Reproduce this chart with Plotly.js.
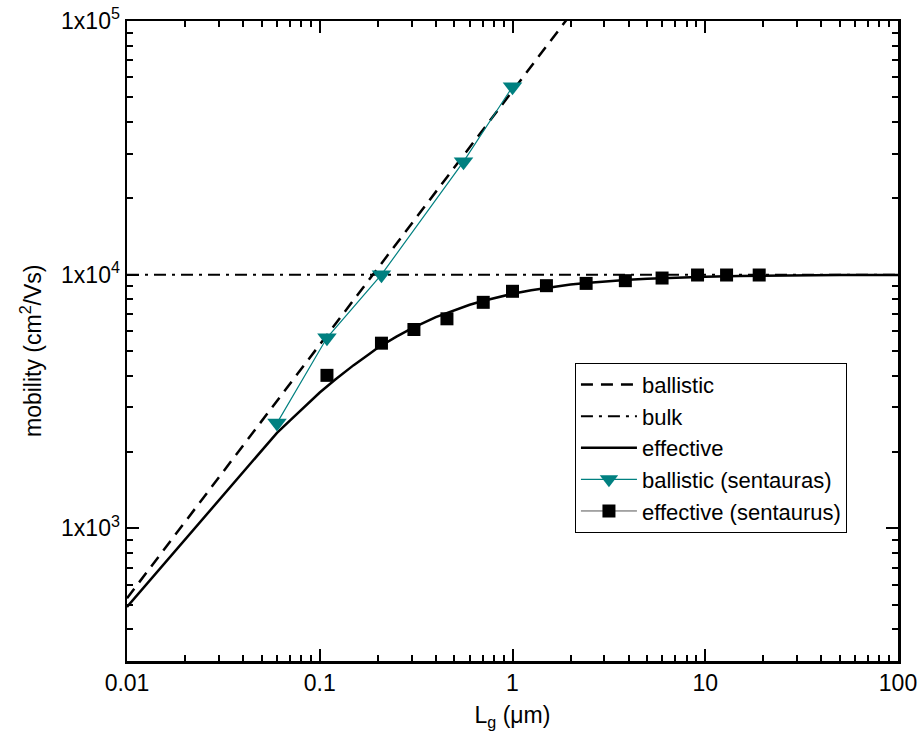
<!DOCTYPE html>
<html>
<head>
<meta charset="utf-8">
<script src="https://cdn.plot.ly/plotly-3.0.1.min.js"></script>
<style>html,body{margin:0;padding:0;background:#fff;}#chart{width:924px;height:744px;}</style>
</head>
<body>
<div id="chart"></div>
<script>
// ---- data ----
const ballisticL  = [0.01, 2.0];
const ballisticMu = [530, 106000];

const bulkL  = [0.01, 100];
const bulkMu = [10000, 10000];

const effL  = [0.01, 0.06, 0.07, 0.08, 0.09, 0.1, 0.12, 0.15, 0.18, 0.2, 0.25, 0.3, 0.4, 0.5, 0.6, 0.7, 0.85, 1, 1.25, 1.5, 2, 2.5, 3, 4, 5, 7, 10, 15, 20, 50, 100];
const effMu = [490, 2380, 2660, 2930, 3190, 3430, 3850, 4400, 4860, 5150, 5700, 6140, 6800, 7260, 7610, 7880, 8180, 8410, 8690, 8880, 9140, 9300, 9410, 9550, 9640, 9740, 9820, 9880, 9910, 9960, 9980];

const sBallL  = [0.06, 0.109, 0.209, 0.557, 1.0];
const sBallMu = [2600, 5640, 10000, 27900, 55100];

const sEffL  = [0.109, 0.209, 0.308, 0.457, 0.705, 1.0, 1.5, 2.41, 3.85, 5.97, 9.12, 12.9, 19.05];
const sEffMu = [4010, 5370, 6080, 6700, 7780, 8600, 9050, 9240, 9470, 9700, 9970, 9970, 9970];

const yTickVals = [1000, 10000, 100000];
const yTickText = ['1x10<sup>3</sup>', '1x10<sup>4</sup>', '1x10<sup>5</sup>'];

const legendNames = ['ballistic', 'bulk', 'effective', 'ballistic (sentauras)', 'effective (sentaurus)'];
const xTitle = 'L<sub>g</sub> (\u03bcm)';
const yTitle = 'mobility (cm<sup>2</sup>/Vs)';

// minor tick positions (axis decoration, digits 2..9 of each decade)
function minorTicks(lo, hi) {
  const out = [];
  for (let e = lo; e < hi; e++) for (let d = 2; d <= 9; d++) out.push(d * Math.pow(10, e));
  return out;
}

const FONT = 'Liberation Sans, Arial, Helvetica, sans-serif';

const traces = [
  {x: ballisticL, y: ballisticMu, name: legendNames[0], mode: 'lines',
   line: {color: '#000', width: 2.5, dash: '12px,8px'}},
  {x: bulkL, y: bulkMu, name: legendNames[1], mode: 'lines',
   line: {color: '#000', width: 2, dash: '12px,6px,3px,6px'}},
  {x: effL, y: effMu, name: legendNames[2], mode: 'lines',
   line: {color: '#000', width: 2.5}},
  {x: sBallL, y: sBallMu, name: legendNames[3], mode: 'lines+markers',
   line: {color: '#008080', width: 1.2},
   marker: {symbol: 'triangle-down', size: 17, color: '#008080'}},
  // squares drawn without a connecting line (as in the reference)
  {x: sEffL, y: sEffMu, name: legendNames[4], mode: 'markers', showlegend: false,
   marker: {symbol: 'square', size: 13, color: '#000'}},
  // legend entry for the squares (line + marker sample)
  {x: [null], y: [null], name: legendNames[4], mode: 'lines+markers',
   line: {color: '#555', width: 1},
   marker: {symbol: 'square', size: 13, color: '#000'}}
];

const axisCommon = {
  type: 'log', showline: true, linecolor: '#000', linewidth: 2.5,
  mirror: 'allticks', ticks: 'inside', ticklen: 12, tickwidth: 2, tickcolor: '#000',
  showgrid: false, zeroline: false,
  tickfont: {family: FONT, size: 23, color: '#000'}
};

const layout = {
  width: 924, height: 744,
  margin: {l: 127, r: 26, t: 21, b: 83},
  paper_bgcolor: '#fff', plot_bgcolor: '#fff',
  font: {family: FONT, color: '#000'},
  showlegend: true,
  xaxis: Object.assign({}, axisCommon, {
    range: [-2, 2], dtick: 1,
    minor: {tickmode: 'array', tickvals: minorTicks(-2, 2), ticks: 'inside', ticklen: 6, tickwidth: 2, tickcolor: '#000', showgrid: false},
    title: {text: xTitle, font: {family: FONT, size: 23, color: '#000'}, standoff: 12}
  }),
  yaxis: Object.assign({}, axisCommon, {
    range: [Math.log10(300), 5],
    tickmode: 'array', tickvals: yTickVals, ticktext: yTickText,
    minor: {tickmode: 'array', tickvals: minorTicks(2, 5).filter(v => v >= 300), ticks: 'inside', ticklen: 6, tickwidth: 2, tickcolor: '#000', showgrid: false},
    title: {text: ''}
  }),
  annotations: [{
    text: yTitle, xref: 'paper', yref: 'paper',
    x: (31 - 127) / 771, y: (661 - 351) / 640, xanchor: 'center', yanchor: 'middle',
    textangle: -90, showarrow: false,
    font: {family: FONT, size: 23, color: '#000'}
  }],
  legend: {
    x: 0.581, y: 0.466, xanchor: 'left', yanchor: 'top',
    bgcolor: '#fff', bordercolor: '#000', borderwidth: 1,
    font: {family: FONT, size: 22, color: '#000'},
    itemwidth: 56, tracegroupgap: 0
  }
};

Plotly.newPlot('chart', traces, layout, {displayModeBar: false, staticPlot: true});
</script>
</body>
</html>
